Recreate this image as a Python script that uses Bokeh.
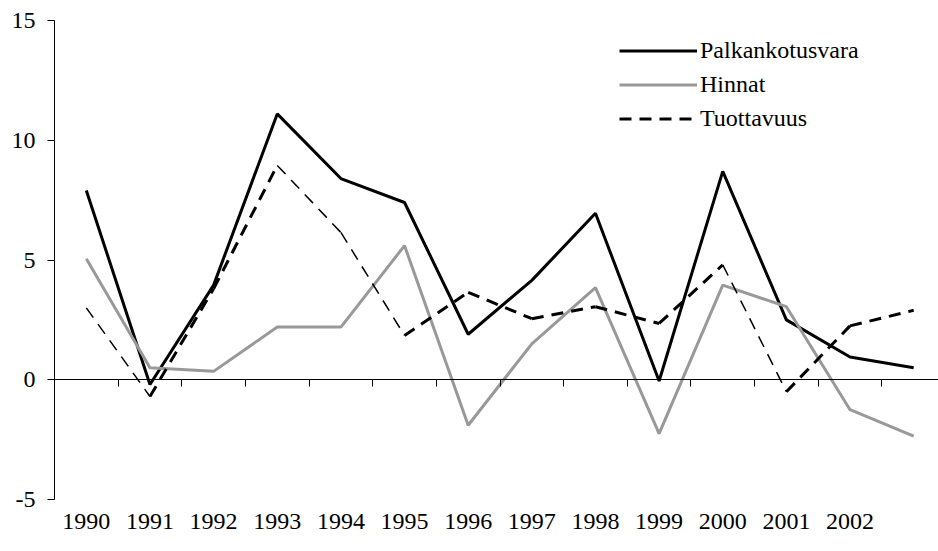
from bokeh.plotting import figure
from bokeh.models import (Range1d, LinearAxis, FixedTicker, Legend, LegendItem,
                          ColumnDataSource)
from bokeh.embed import file_html
from bokeh.resources import INLINE

# ---- data ----
years = ["1990", "1991", "1992", "1993", "1994", "1995", "1996",
         "1997", "1998", "1999", "2000", "2001", "2002", ""]
palkankotusvara = [7.9, -0.2, 3.95, 11.1, 8.4, 7.4, 1.9, 4.15, 6.95, -0.05, 8.7, 2.5, 0.95, 0.5]
hinnat = [5.05, 0.5, 0.35, 2.2, 2.2, 5.6, -1.9, 1.5, 3.85, -2.25, 3.95, 3.05, -1.25, -2.35]
tuottavuus = [3.0, -0.7, 3.8, 8.95, 6.15, 1.85, 3.65, 2.55, 3.05, 2.35, 4.8, -0.5, 2.25, 2.9]
y_ticks = [-5, 0, 5, 10, 15]
y_labels = ["-5", "0", "5", "10", "15"]

FONT = "'Liberation Serif', 'Times New Roman', serif"
FS = "24px"

xs = list(range(len(years)))

p = figure(width=938, height=549, output_backend="svg", toolbar_location=None,
           x_range=Range1d(-0.5, 13.39), y_range=Range1d(-5, 15),
           x_axis_location=None, y_axis_location="left",
           min_border_left=54, min_border_right=0, min_border_top=20,
           min_border_bottom=50)
p.outline_line_color = None
p.grid.visible = False
p.background_fill_color = "white"
p.border_fill_color = "white"

# y axis
ya = p.yaxis[0]
ya.ticker = FixedTicker(ticks=y_ticks)
ya.major_label_overrides = dict(zip(y_ticks, y_labels))
ya.minor_tick_line_color = None
ya.major_tick_in = 0
ya.major_tick_out = 7
ya.axis_line_color = "black"
ya.major_tick_line_color = "black"
ya.major_label_standoff = 12
ya.major_label_text_font = FONT
ya.major_label_text_font_size = FS
ya.major_label_text_color = "black"

# category labels at the bottom
la = LinearAxis(ticker=FixedTicker(ticks=xs),
                major_label_overrides={i: years[i] for i in xs})
la.axis_line_color = None
la.major_tick_line_color = None
la.minor_tick_line_color = None
la.major_tick_in = 0
la.major_tick_out = 0
la.major_label_standoff = 14
la.major_label_text_font = FONT
la.major_label_text_font_size = FS
la.major_label_text_color = "black"
p.add_layout(la, "below")

# category axis line at zero with boundary ticks (pointing down)
za = LinearAxis(ticker=FixedTicker(ticks=[i - 0.5 for i in xs]), fixed_location=0)
za.axis_line_color = "black"
za.major_tick_line_color = "black"
za.minor_tick_line_color = None
za.major_tick_in = 7
za.major_tick_out = 0
za.major_label_text_font_size = "0px"
za.major_label_text_color = None
za.major_label_standoff = 0
p.add_layout(za, "above")

# series
r1 = p.line(xs, palkankotusvara, line_color="black", line_width=3)
r2 = p.line(xs, hinnat, line_color="#999999", line_width=3)

seg = ColumnDataSource(dict(
    x0=xs[:-1], x1=xs[1:], y0=tuottavuus[:-1], y1=tuottavuus[1:],
    w=[1.5 if (b - a) < -2 else 3 for a, b in zip(tuottavuus[:-1], tuottavuus[1:])],
))
r3 = p.segment(x0="x0", y0="y0", x1="x1", y1="y1", source=seg, line_color="black",
               line_width="w", line_dash="12 8")

legend = Legend(items=[LegendItem(label="Palkankotusvara", renderers=[r1]),
                       LegendItem(label="Hinnat", renderers=[r2]),
                       LegendItem(label="Tuottavuus", renderers=[r3], index=1)],
                location=(565, 367))
legend.glyph_width = 78
legend.glyph_height = 27
legend.label_height = 27
legend.label_standoff = 3
legend.spacing = 7
legend.padding = 0
legend.margin = 0
legend.border_line_color = None
legend.background_fill_alpha = 0
legend.label_text_font = FONT
legend.label_text_font_size = FS
legend.label_text_color = "black"
p.add_layout(legend)

open("out.html", "w").write(file_html(p, INLINE))
